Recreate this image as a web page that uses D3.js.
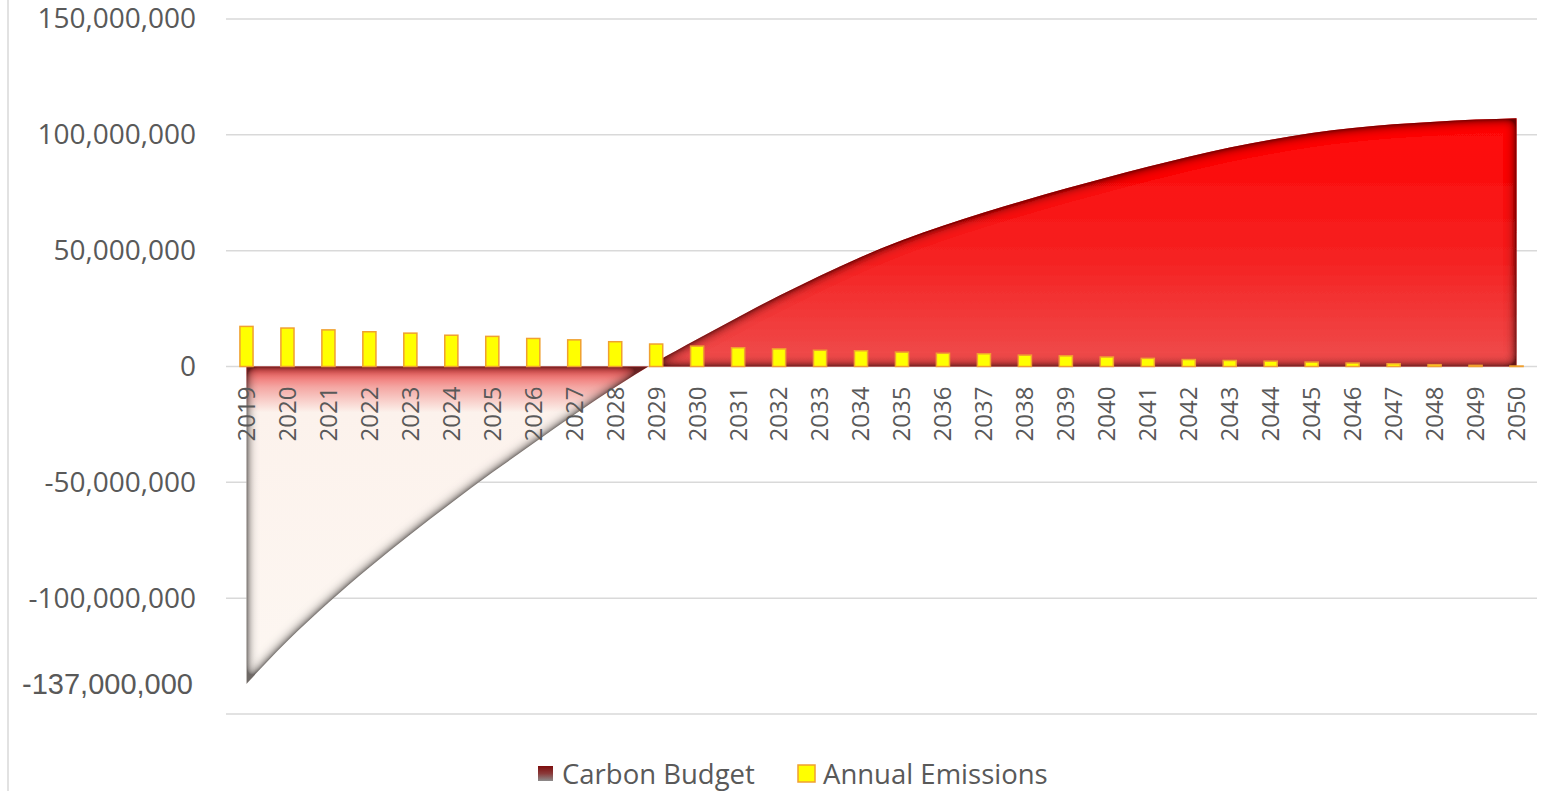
<!DOCTYPE html>
<html>
<head>
<meta charset="utf-8">
<script src="https://cdn.jsdelivr.net/npm/d3@7"></script>
<style>
  html, body { margin: 0; padding: 0; background: #fff; }
  #viz { width: 1542px; height: 791px; }
  text { font-family: "Open Sans", sans-serif; fill: #595959; }
</style>
</head>
<body>
<div id="viz"></div>
<script>
// values, in millions of tonnes
const years = d3.range(2019, 2051).map(String);

const emissions = [
    17.3, 16.6, 15.8, 15.0, 14.4, 13.5, 13.0, 12.1, 11.5, 10.7,
    9.7, 8.8, 8.1, 7.6, 7.0, 6.8, 6.2, 5.7, 5.5, 4.9,
    4.6, 4.1, 3.5, 3.0, 2.6, 2.3, 1.9, 1.5, 1.2, 0.8,
    0.5, 0.2
];

const carbonBudget = [
    -137, -118.5, -102, -86.8, -72.5, -58.9, -45.8, -33.2, -20.8, -9.0,
    2.0, 11.8, 21.3, 30.5, 39.2, 47.3, 54.5, 60.8, 66.5, 71.8,
    76.8, 81.6, 86.2, 90.5, 94.5, 97.9, 100.8, 103.0, 104.6, 105.7,
    106.6, 107.2
];

const gridValues = [-150, -100, -50, 0, 50, 100, 150];
const labelValues = [-100, -50, 0, 50, 100, 150];
const minLabel = -137;

const legendNames = ['Carbon Budget', 'Annual Emissions'];

const width = 1542,
    height = 791,
    margin = { left: 226, right: 5 };

const svg = d3.select('#viz').append('svg')
    .attr('width', width)
    .attr('height', height);

const x = d3.scaleBand()
    .domain(years)
    .range([margin.left, width - margin.right]);

const y = d3.scaleLinear()
    .domain([-150, 150])
    .range([714, 19]);

const locale = d3.formatLocale({
    decimal: '.', thousands: ',', grouping: [3], currency: ['', ''], minus: '-'
});
const fmt = v => locale.format(',')(Math.round(v * 1e6));

const defs = svg.append('defs');

// gradient for the budget area
const grad = defs.append('linearGradient')
    .attr('id', 'budgetFill')
    .attr('gradientUnits', 'userSpaceOnUse')
    .attr('x1', 0).attr('x2', 0)
    .attr('y1', y(107.2)).attr('y2', y(-137));

const stops = [
    [0, '#ff0303'],
    [0.25, '#f52222'],
    [0.44, '#ee4e4e'],
    [0.475, '#f4a6a2'],
    [0.52, '#fcf2ec'],
    [1, '#fdf7f2']
];
stops.forEach(s => grad.append('stop').attr('offset', s[0]).attr('stop-color', s[1]));

// inner shadow round the area edges
const filter = defs.append('filter')
    .attr('id', 'innerShadow')
    .attr('filterUnits', 'userSpaceOnUse')
    .attr('x', 0).attr('y', 0)
    .attr('width', width).attr('height', height);

filter.append('feComponentTransfer')
    .attr('in', 'SourceAlpha')
    .attr('result', 'inv')
    .append('feFuncA')
    .attr('type', 'table')
    .attr('tableValues', '1 0');
filter.append('feGaussianBlur')
    .attr('in', 'inv')
    .attr('stdDeviation', 6)
    .attr('result', 'blur0');
filter.append('feComponentTransfer')
    .attr('in', 'blur0')
    .attr('result', 'blur')
    .append('feFuncA')
    .attr('type', 'linear')
    .attr('slope', 2)
    .attr('intercept', 0);
filter.append('feFlood')
    .attr('flood-color', '#140000')
    .attr('flood-opacity', 0.85)
    .attr('result', 'col');
filter.append('feComposite')
    .attr('in', 'col').attr('in2', 'blur')
    .attr('operator', 'in')
    .attr('result', 'shadow');
filter.append('feComposite')
    .attr('in', 'shadow').attr('in2', 'SourceAlpha')
    .attr('operator', 'in')
    .attr('result', 'inner');
const merge = filter.append('feMerge');
merge.append('feMergeNode').attr('in', 'SourceGraphic');
merge.append('feMergeNode').attr('in', 'inner');

// legend swatch gradient
const legGrad = defs.append('linearGradient')
    .attr('id', 'legendFill')
    .attr('x1', 0).attr('x2', 0).attr('y1', 0).attr('y2', 1);
legGrad.append('stop').attr('offset', 0).attr('stop-color', '#7d0d0d');
legGrad.append('stop').attr('offset', 0.5).attr('stop-color', '#8a3a3a');
legGrad.append('stop').attr('offset', 1).attr('stop-color', '#8c8c8c');

// faint border on the left
svg.append('line')
    .attr('x1', 8).attr('x2', 8)
    .attr('y1', 0).attr('y2', height)
    .attr('stroke', '#d9d9d9')
    .attr('stroke-width', 1.5);

// gridlines
svg.append('g')
    .selectAll('line')
    .data(gridValues)
    .join('line')
    .attr('x1', margin.left)
    .attr('x2', width - margin.right)
    .attr('y1', d => y(d))
    .attr('y2', d => y(d))
    .attr('stroke', '#d9d9d9')
    .attr('stroke-width', 1.5);

// y labels
const yAxis = svg.append('g')
    .attr('transform', 'translate(196,0)')
    .call(d3.axisLeft(y).tickValues(labelValues).tickSize(0).tickPadding(0).tickFormat(fmt));
yAxis.select('.domain').remove();
yAxis.selectAll('text')
    .attr('font-family', '"Open Sans", sans-serif')
    .attr('font-size', 28)
    .attr('fill', '#595959');

svg.append('text')
    .attr('x', 193)
    .attr('y', y(minLabel))
    .attr('dy', '0.35em')
    .attr('text-anchor', 'end')
    .style('font-family', '"Liberation Sans", Arial, sans-serif')
    .style('font-size', '29px')
    .text(fmt(minLabel));

// carbon budget area
const area = d3.area()
    .x((d, i) => x(years[i]) + x.bandwidth() / 2)
    .y0(y(0))
    .y1(d => y(d))
    .curve(d3.curveMonotoneX);

svg.append('path')
    .datum(carbonBudget)
    .attr('d', area)
    .attr('fill', 'url(#budgetFill)')
    .attr('filter', 'url(#innerShadow)');

// annual emission bars
const barW = x.bandwidth() * 0.32;

svg.append('g')
    .selectAll('rect')
    .data(emissions)
    .join('rect')
    .attr('x', (d, i) => x(years[i]) + x.bandwidth() / 2 - barW / 2)
    .attr('y', d => y(d))
    .attr('width', barW)
    .attr('height', d => y(0) - y(d))
    .attr('fill', '#ffff00')
    .attr('stroke', '#f0a030')
    .attr('stroke-width', 1.5);

// rotated year labels
const xAxis = svg.append('g')
    .attr('transform', `translate(0,${y(0)})`)
    .call(d3.axisBottom(x).tickSize(0).tickPadding(0));
xAxis.select('.domain').remove();
xAxis.selectAll('text')
    .attr('font-family', '"Open Sans", sans-serif')
    .attr('font-size', 24)
    .attr('fill', '#595959')
    .attr('text-anchor', 'end')
    .attr('dy', '0.35em')
    .attr('transform', 'translate(0,20) rotate(-90)')
    .attr('x', 0)
    .attr('y', 0);

// legend
const legend = svg.append('g');

legend.append('rect')
    .attr('x', 538).attr('y', 766)
    .attr('width', 15).attr('height', 15)
    .attr('fill', 'url(#legendFill)');

legend.append('text')
    .attr('x', 562).attr('y', 774)
    .attr('dy', '0.35em')
    .style('font-size', '27.5px')
    .text(legendNames[0]);

legend.append('rect')
    .attr('x', 798).attr('y', 765)
    .attr('width', 17).attr('height', 17)
    .attr('fill', '#ffff00')
    .attr('stroke', '#f0a030')
    .attr('stroke-width', 1.5);

legend.append('text')
    .attr('x', 823).attr('y', 774)
    .attr('dy', '0.35em')
    .style('font-size', '27.5px')
    .text(legendNames[1]);
</script>
</body>
</html>
